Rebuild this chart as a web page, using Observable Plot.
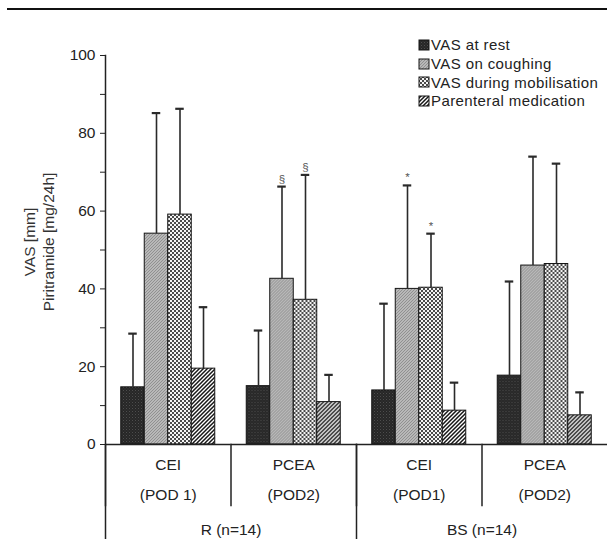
<!DOCTYPE html>
<html>
<head>
<meta charset="utf-8">
<script src="https://cdn.jsdelivr.net/npm/d3@7"></script>
<script src="https://cdn.jsdelivr.net/npm/@observablehq/plot@0.6"></script>
<style>
  body { margin: 0; background: #fff; font-family: "Liberation Sans", Arial, sans-serif; }
  #wrap { position: relative; width: 607px; height: 539px; overflow: hidden; }
  #topline { position: absolute; left: 7px; right: 0; top: 8px; height: 2px; background: #111; }
  #legend { position: absolute; left: 418px; top: 35.5px; font-size: 15px; letter-spacing: 0.4px; color: #222; }
  #legend .row { display: flex; align-items: center; height: 18.7px; white-space: nowrap; }
  #legend svg { margin-right: 1px; }
  #defs { position: absolute; width: 0; height: 0; }
</style>
</head>
<body>
<svg id="defs" width="0" height="0">
  <defs>
    <pattern id="pRest" width="3" height="3" patternUnits="userSpaceOnUse">
      <rect width="3" height="3" fill="#272727"/>
      <rect x="0" y="0" width="1" height="1" fill="#4d4d4d"/>
      <rect x="1.5" y="1.5" width="1" height="1" fill="#3a3a3a"/>
    </pattern>
    <pattern id="pCough" width="3" height="3" patternUnits="userSpaceOnUse">
      <rect width="3" height="3" fill="#b8b8b8"/>
      <path d="M0,3 L3,0" stroke="#858585" stroke-width="0.8"/>
    </pattern>
    <pattern id="pMob" width="4" height="4" patternUnits="userSpaceOnUse">
      <rect width="4" height="4" fill="#f4f4f4"/>
      <rect x="0" y="0" width="2" height="2" fill="#4a4a4a"/>
      <rect x="2" y="2" width="2" height="2" fill="#4a4a4a"/>
    </pattern>
    <pattern id="pPar" width="4" height="4" patternUnits="userSpaceOnUse">
      <rect width="4" height="4" fill="#ffffff"/>
      <path d="M-1,1 L1,-1 M0,4 L4,0 M3,5 L5,3" stroke="#161616" stroke-width="1.5"/>
    </pattern>
  </defs>
</svg>
<div id="wrap">
  <div id="topline"></div>
  <div id="chart"></div>
  <div id="legend"></div>
</div>
<script>
// ---- data ----
const subgroups = ["R-CEI", "R-PCEA", "BS-CEI", "BS-PCEA"];
const regimen = ["CEI", "PCEA", "CEI", "PCEA"];
const podLabel = ["(POD 1)", "(POD2)", "(POD1)", "(POD2)"];
const topGroups = ["R (n=14)", "BS (n=14)"];
const topGroupFirstSub = ["R-CEI", "BS-CEI"];
const series = ["VAS at rest", "VAS on coughing", "VAS during mobilisation", "Parenteral medication"];
const patternIds = ["pRest", "pCough", "pMob", "pPar"];

// means per subgroup
const meanRest  = [14.7, 15.0, 13.9, 17.7];
const meanCough = [54.2, 42.6, 40.0, 46.0];
const meanMob   = [59.1, 37.2, 40.3, 46.4];
const meanPar   = [19.5, 10.9, 8.7, 7.5];
// top of error bars (mean + SD)
const upperRest  = [28.5, 29.3, 36.2, 41.9];
const upperCough = [85.2, 66.3, 66.6, 74.0];
const upperMob   = [86.3, 69.3, 54.2, 72.2];
const upperPar   = [35.3, 17.9, 15.9, 13.4];

// significance markers
const markSub = ["R-PCEA", "R-PCEA", "BS-CEI", "BS-CEI"];
const markSeries = ["VAS on coughing", "VAS during mobilisation", "VAS on coughing", "VAS during mobilisation"];
const markSymbol = ["§", "§", "*", "*"];

const yMajor = [0, 20, 40, 60, 80, 100];
const yMinor = [10, 30, 50, 70, 90];
const yLabel = "VAS [mm]\nPiritramide [mg/24h]";

// ---- build tables ----
const means = [meanRest, meanCough, meanMob, meanPar];
const uppers = [upperRest, upperCough, upperMob, upperPar];
const rows = [];
subgroups.forEach((sub, i) => {
  series.forEach((s, k) => rows.push({sub, series: s, mean: means[k][i], upper: uppers[k][i]}));
});
const subRows = subgroups.map((sub, i) => ({sub, regimen: regimen[i], pod: podLabel[i]}));
const topRows = topGroups.map((label, i) => ({label, first: topGroupFirstSub[i]}));
const markRows = markSub.map((sub, i) => {
  const r = rows.find(d => d.sub === sub && d.series === markSeries[i]);
  return {sub, series: markSeries[i], upper: r.upper, sym: markSymbol[i]};
});

// ---- layout ----
const W = 607, H = 539, mTop = 55, mBottom = 95, mLeft = 105;
const plotBottom = H - mBottom;
const ink = "#222";
const fs = 15.5;

const plot = Plot.plot({
  width: W, height: H,
  marginLeft: mLeft, marginRight: 0, marginTop: mTop, marginBottom: mBottom,
  fx: {domain: subgroups, padding: 0, axis: null, round: false},
  x: {domain: series, paddingInner: 0, paddingOuter: 0.67, axis: null, round: false},
  y: {domain: [0, 100], axis: null},
  color: {domain: series, range: patternIds.map(id => `url(#${id})`)},
  style: {fontFamily: "'Liberation Sans', Arial, sans-serif", color: ink, background: "transparent", overflow: "visible"},
  marks: [
    Plot.barY(rows, {fx: "sub", x: "series", y: "mean", fill: "series", stroke: "#151515", strokeWidth: 1}),
    Plot.ruleX(rows, {fx: "sub", x: "series", y1: "mean", y2: "upper", stroke: "#2a2a2a", strokeWidth: 1.6}),
    Plot.tickY(rows, {fx: "sub", x: "series", y: "upper", stroke: "#2a2a2a", strokeWidth: 2.2, insetLeft: 7.5, insetRight: 7.5}),
    Plot.text(markRows, {fx: "sub", x: "series", y: "upper", text: "sym", dy: -4, lineAnchor: "bottom", fontSize: 11.5, fill: "#555"}),
    Plot.ruleY([0], {stroke: ink, strokeWidth: 1.5}),
    // table dividers under the axis
    Plot.frame({anchor: "left", stroke: ink, strokeWidth: 1.5, insetTop: plotBottom - mTop, insetBottom: -61}),
    Plot.frame({anchor: "left", stroke: ink, strokeWidth: 1.5, fx: () => subgroups[0], insetBottom: -mBottom}),
    Plot.frame({anchor: "left", stroke: ink, strokeWidth: 1.5, fx: () => subgroups[2], insetTop: plotBottom - mTop, insetBottom: -mBottom}),
    // y axis
    Plot.axisY({ticks: yMajor, tickSize: 5, tickPadding: 5, fontSize: fs, stroke: ink}),
    Plot.axisY({ticks: yMinor, tickSize: 5, tickFormat: () => "", stroke: ink}),
    Plot.text([yLabel], {fx: () => subgroups[0], text: d => d, frameAnchor: "left", textAnchor: "middle", rotate: -90, dx: -67.5, dy: -8, lineHeight: 1.25, lineAnchor: "middle", fontSize: fs, fill: "#333"}),
    // category labels
    Plot.text(subRows, {fx: "sub", text: "regimen", frameAnchor: "bottom", textAnchor: "middle", lineAnchor: "middle", dy: 21, fontSize: fs, fill: "#222"}),
    Plot.text(subRows, {fx: "sub", text: "pod", frameAnchor: "bottom", textAnchor: "middle", lineAnchor: "middle", dy: 51, fontSize: fs, fill: "#222"}),
    Plot.text(topRows, {fx: "first", text: "label", frameAnchor: "bottom-right", textAnchor: "middle", lineAnchor: "middle", dy: 86, fontSize: fs, fill: "#222"})
  ]
});
document.getElementById("chart").appendChild(plot);

// legend
const legend = d3.select("#legend");
series.forEach((s, k) => {
  const row = legend.append("div").attr("class", "row");
  const sw = row.append("svg").attr("width", 12).attr("height", 12);
  sw.append("rect").attr("x", 1).attr("y", 1).attr("width", 10).attr("height", 10)
    .attr("fill", `url(#${patternIds[k]})`).attr("stroke", "#151515").attr("stroke-width", 1);
  row.append("span").text(s);
});
</script>
</body>
</html>
